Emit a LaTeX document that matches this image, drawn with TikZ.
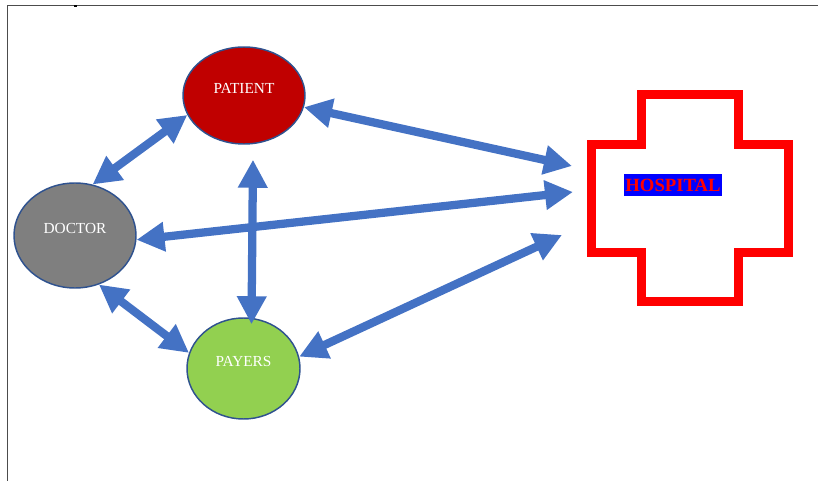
\documentclass[tikz,border=0pt]{standalone}
\usepackage{fontspec}
\setmainfont{Liberation Serif}
\usetikzlibrary{arrows.meta,shapes.geometric}

\definecolor{linkblue}{HTML}{4472C4}
\definecolor{rimblue}{HTML}{2F528F}
\definecolor{patientred}{HTML}{C00000}
\definecolor{doctorgray}{HTML}{7F7F7F}
\definecolor{payergreen}{HTML}{92D050}

\begin{document}
\begin{tikzpicture}[x=0.75pt,y=-0.75pt,
    party/.style={ellipse, draw=rimblue, line width=1.1pt, inner sep=0pt,
        text=white, font=\fontsize{11.5}{13}\selectfont, text depth=10.5pt},
    link/.style={draw=linkblue, line width=6.2pt,
        {Triangle[length=21pt,width=21pt]}-{Triangle[length=21pt,width=21pt]}}]
    \useasboundingbox (0,0) rectangle (818,481);

    % Draw page edge
    \draw[gray!60!black, line width=0.75pt] (7.5,481) -- (7.5,6) -- (818,6);
    \draw[black, line width=1.2pt] (74,6.3) -- (77,6.3);

    % Draw the parties
    \node[party, fill=patientred, minimum width=91.5pt, minimum height=72.75pt] (patient) at (244,95.5) {PATIENT};
    \node[party, fill=doctorgray, minimum width=91.5pt, minimum height=78.75pt] (doctor) at (75,235.5) {DOCTOR};
    \node[party, fill=payergreen, minimum width=84.75pt, minimum height=75.75pt] (payers) at (243.5,368.5) {PAYERS};

    % Draw hospital cross
    \draw[red, line width=6.75pt, line join=miter]
        (641.5,94.5) -- (738.5,94.5) -- (738.5,144.5) -- (788,144.5) -- (788,252.5)
        -- (738.5,252.5) -- (738.5,301.5) -- (641.5,301.5) -- (641.5,252.5)
        -- (591.5,252.5) -- (591.5,144.5) -- (641.5,144.5) -- cycle;
    \node[fill=blue, text=red, font=\fontsize{14}{16}\selectfont\bfseries,
        inner xsep=0.8pt, inner ysep=3.6pt, text height=9.3pt, text depth=0pt] (hospital) at (673,185) {HOSPITAL};
    \coordinate (hnw) at (572,166);
    \coordinate (hw) at (573,192);
    \coordinate (hsw) at (562,235);

    % Draw two-way links
    \draw[link] (patient.199) -- (doctor.71);
    \draw[link] (patient.-11) -- (hnw);
    \draw[link] (doctor.-4) -- (hw);
    \draw[link] ([shift={(9,15)}]patient.south) -- ([shift={(8,7)}]payers.north);
    \draw[link] (doctor.-64) -- (payers.164);
    \draw[link] (payers.12) -- (hsw);
\end{tikzpicture}
\end{document}
